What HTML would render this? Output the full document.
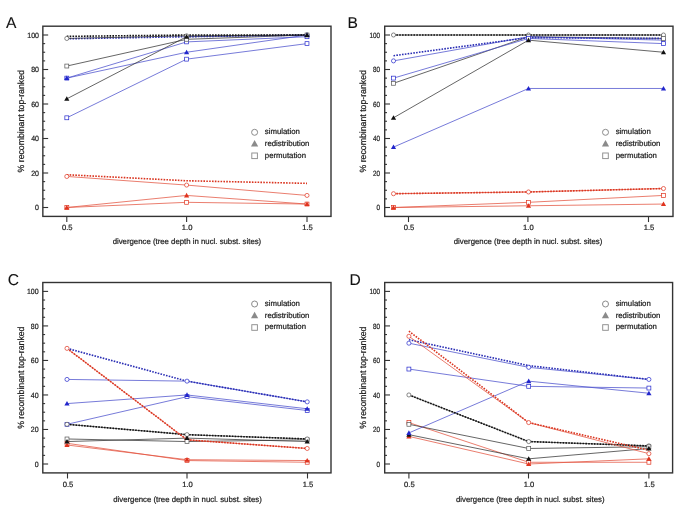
<!DOCTYPE html>
<html><head><meta charset="utf-8"><style>
html,body{margin:0;padding:0;background:#fff;}
svg{display:block;will-change:transform;}
text{text-rendering:geometricPrecision;font-family:"Liberation Sans",sans-serif;stroke:#1c1c1c;stroke-width:0.22px;}
.pl{stroke-width:0.1px;}
.tk{font-size:7.6px;fill:#1c1c1c;}
.al{font-size:7.9px;fill:#1c1c1c;}
.yl{font-size:9px;fill:#1c1c1c;}
.lg{font-size:7.8px;fill:#1c1c1c;}
.pl{font-size:15.6px;fill:#111;}
</style></head><body>
<svg width="685" height="514" viewBox="0 0 685 514">
<rect width="685" height="514" fill="#fff"/>
<rect x="42.85" y="26.2" width="288.15" height="190.2" fill="none" stroke="#333" stroke-width="1.4"/>
<line x1="42.85" y1="207.5" x2="48.15" y2="207.5" stroke="#333" stroke-width="1.1"/>
<text transform="translate(38.95,210.2) scale(0.92,1)" text-anchor="end" class="tk">0</text>
<line x1="42.85" y1="198.88" x2="45.15" y2="198.88" stroke="#333" stroke-width="1.1"/>
<line x1="42.85" y1="190.25" x2="45.15" y2="190.25" stroke="#333" stroke-width="1.1"/>
<line x1="42.85" y1="181.62" x2="45.15" y2="181.62" stroke="#333" stroke-width="1.1"/>
<line x1="42.85" y1="173" x2="48.15" y2="173" stroke="#333" stroke-width="1.1"/>
<text transform="translate(38.95,175.7) scale(0.92,1)" text-anchor="end" class="tk">20</text>
<line x1="42.85" y1="164.38" x2="45.15" y2="164.38" stroke="#333" stroke-width="1.1"/>
<line x1="42.85" y1="155.75" x2="45.15" y2="155.75" stroke="#333" stroke-width="1.1"/>
<line x1="42.85" y1="147.12" x2="45.15" y2="147.12" stroke="#333" stroke-width="1.1"/>
<line x1="42.85" y1="138.5" x2="48.15" y2="138.5" stroke="#333" stroke-width="1.1"/>
<text transform="translate(38.95,141.2) scale(0.92,1)" text-anchor="end" class="tk">40</text>
<line x1="42.85" y1="129.88" x2="45.15" y2="129.88" stroke="#333" stroke-width="1.1"/>
<line x1="42.85" y1="121.25" x2="45.15" y2="121.25" stroke="#333" stroke-width="1.1"/>
<line x1="42.85" y1="112.62" x2="45.15" y2="112.62" stroke="#333" stroke-width="1.1"/>
<line x1="42.85" y1="104" x2="48.15" y2="104" stroke="#333" stroke-width="1.1"/>
<text transform="translate(38.95,106.7) scale(0.92,1)" text-anchor="end" class="tk">60</text>
<line x1="42.85" y1="95.38" x2="45.15" y2="95.38" stroke="#333" stroke-width="1.1"/>
<line x1="42.85" y1="86.75" x2="45.15" y2="86.75" stroke="#333" stroke-width="1.1"/>
<line x1="42.85" y1="78.12" x2="45.15" y2="78.12" stroke="#333" stroke-width="1.1"/>
<line x1="42.85" y1="69.5" x2="48.15" y2="69.5" stroke="#333" stroke-width="1.1"/>
<text transform="translate(38.95,72.2) scale(0.92,1)" text-anchor="end" class="tk">80</text>
<line x1="42.85" y1="60.88" x2="45.15" y2="60.88" stroke="#333" stroke-width="1.1"/>
<line x1="42.85" y1="52.25" x2="45.15" y2="52.25" stroke="#333" stroke-width="1.1"/>
<line x1="42.85" y1="43.62" x2="45.15" y2="43.62" stroke="#333" stroke-width="1.1"/>
<line x1="42.85" y1="35" x2="48.15" y2="35" stroke="#333" stroke-width="1.1"/>
<text transform="translate(38.95,37.7) scale(0.92,1)" text-anchor="end" class="tk">100</text>
<line x1="66.8" y1="216.4" x2="66.8" y2="222" stroke="#333" stroke-width="1.1"/>
<text transform="translate(67.3,229.9) scale(1,1)" text-anchor="middle" class="tk">0.5</text>
<line x1="186.6" y1="216.4" x2="186.6" y2="222" stroke="#333" stroke-width="1.1"/>
<text transform="translate(187.1,229.9) scale(1,1)" text-anchor="middle" class="tk">1.0</text>
<line x1="307" y1="216.4" x2="307" y2="222" stroke="#333" stroke-width="1.1"/>
<text transform="translate(307.5,229.9) scale(1,1)" text-anchor="middle" class="tk">1.5</text>
<text x="186.93" y="243.9" text-anchor="middle" class="al" textLength="148.6" lengthAdjust="spacingAndGlyphs">divergence (tree depth in nucl. subst. sites)</text>
<text transform="translate(24.35,121.3) rotate(-90)" x="0" y="0" text-anchor="middle" class="yl" textLength="102.3" lengthAdjust="spacingAndGlyphs">% recombinant top-ranked</text>
<text transform="translate(6.1,27.6) scale(1,1)" class="pl">A</text>
<circle cx="254.6" cy="132.3" r="3" fill="#fff" stroke="#8a8a8a" stroke-width="1"/>
<path d="M251,146.6 L254.6,140.1 L258.2,146.6 Z" fill="#8a8a8a"/>
<rect x="251.8" y="153" width="5.6" height="5.6" fill="#fff" stroke="#8e8e8e" stroke-width="0.95"/>
<text x="264.8" y="134.4" class="lg">simulation</text>
<text x="264.8" y="146" class="lg">redistribution</text>
<text x="264.8" y="157.6" class="lg">permutation</text>
<polyline points="66.8,174.72 186.6,180.76 307,183.35" fill="none" stroke="#da3520" stroke-width="1.6" stroke-dasharray="1.6 1.25"/>
<polyline points="66.8,176.45 186.6,185.07 307,195.43" fill="none" stroke="#e3533f" stroke-width="0.75"/>
<polyline points="66.8,207.5 186.6,202.32 307,204.05" fill="none" stroke="#e3533f" stroke-width="0.75"/>
<polyline points="66.8,207.5 186.6,195.43 307,204.05" fill="none" stroke="#e3533f" stroke-width="0.75"/>
<polyline points="66.8,117.8 186.6,59.15 307,43.62" fill="none" stroke="#4a4fcc" stroke-width="0.75"/>
<polyline points="66.8,78.12 186.6,41.9 307,36.72" fill="none" stroke="#4a4fcc" stroke-width="0.75"/>
<polyline points="66.8,78.12 186.6,52.25 307,35" fill="none" stroke="#4a4fcc" stroke-width="0.75"/>
<polyline points="66.8,98.82 186.6,36.72 307,35" fill="none" stroke="#333" stroke-width="0.75"/>
<polyline points="66.8,66.05 186.6,39.31 307,35" fill="none" stroke="#333" stroke-width="0.75"/>
<polyline points="66.8,38.79 186.6,36.72 307,35" fill="none" stroke="#2a2eb4" stroke-width="1.6" stroke-dasharray="1.6 1.25"/>
<polyline points="66.8,38.45 186.6,35.86 307,35" fill="none" stroke="#333" stroke-width="0.75"/>
<polyline points="66.8,36.38 186.6,35 307,35" fill="none" stroke="#111" stroke-width="1.6" stroke-dasharray="1.6 1.25"/>
<circle cx="66.8" cy="176.45" r="2.05" fill="#fff" stroke="#e0341f" stroke-width="0.7"/>
<circle cx="186.6" cy="185.07" r="2.05" fill="#fff" stroke="#e0341f" stroke-width="0.7"/>
<circle cx="307" cy="195.43" r="2.05" fill="#fff" stroke="#e0341f" stroke-width="0.7"/>
<circle cx="66.8" cy="38.45" r="2.05" fill="#fff" stroke="#555" stroke-width="0.7"/>
<circle cx="186.6" cy="35.86" r="2.05" fill="#fff" stroke="#555" stroke-width="0.7"/>
<circle cx="307" cy="35" r="2.05" fill="#fff" stroke="#555" stroke-width="0.7"/>
<rect x="64.85" y="205.55" width="3.9" height="3.9" fill="#fff" stroke="#e0341f" stroke-width="0.7"/>
<rect x="184.65" y="200.38" width="3.9" height="3.9" fill="#fff" stroke="#e0341f" stroke-width="0.7"/>
<rect x="305.05" y="202.1" width="3.9" height="3.9" fill="#fff" stroke="#e0341f" stroke-width="0.7"/>
<rect x="64.85" y="115.85" width="3.9" height="3.9" fill="#fff" stroke="#2226cc" stroke-width="0.7"/>
<rect x="184.65" y="57.2" width="3.9" height="3.9" fill="#fff" stroke="#2226cc" stroke-width="0.7"/>
<rect x="305.05" y="41.67" width="3.9" height="3.9" fill="#fff" stroke="#2226cc" stroke-width="0.7"/>
<rect x="64.85" y="76.17" width="3.9" height="3.9" fill="#fff" stroke="#2226cc" stroke-width="0.7"/>
<rect x="184.65" y="39.95" width="3.9" height="3.9" fill="#fff" stroke="#2226cc" stroke-width="0.7"/>
<rect x="305.05" y="34.77" width="3.9" height="3.9" fill="#fff" stroke="#2226cc" stroke-width="0.7"/>
<rect x="64.85" y="64.1" width="3.9" height="3.9" fill="#fff" stroke="#555" stroke-width="0.7"/>
<rect x="184.65" y="37.36" width="3.9" height="3.9" fill="#fff" stroke="#555" stroke-width="0.7"/>
<rect x="305.05" y="33.05" width="3.9" height="3.9" fill="#fff" stroke="#555" stroke-width="0.7"/>
<path d="M64.2,209.5 L66.8,204.9 L69.4,209.5 Z" fill="#e0341f"/>
<path d="M184,197.43 L186.6,192.83 L189.2,197.43 Z" fill="#e0341f"/>
<path d="M304.4,206.05 L307,201.45 L309.6,206.05 Z" fill="#e0341f"/>
<path d="M64.2,80.12 L66.8,75.53 L69.4,80.12 Z" fill="#2226cc"/>
<path d="M184,54.25 L186.6,49.65 L189.2,54.25 Z" fill="#2226cc"/>
<path d="M304.4,37 L307,32.4 L309.6,37 Z" fill="#2226cc"/>
<path d="M64.2,100.82 L66.8,96.22 L69.4,100.82 Z" fill="#111"/>
<path d="M184,38.72 L186.6,34.12 L189.2,38.72 Z" fill="#111"/>
<path d="M304.4,37 L307,32.4 L309.6,37 Z" fill="#111"/>
<rect x="384.7" y="26.2" width="288.3" height="190.25" fill="none" stroke="#333" stroke-width="1.4"/>
<line x1="384.7" y1="207.5" x2="390" y2="207.5" stroke="#333" stroke-width="1.1"/>
<text transform="translate(380,210.2) scale(0.83,1)" text-anchor="end" class="tk">0</text>
<line x1="384.7" y1="198.88" x2="387" y2="198.88" stroke="#333" stroke-width="1.1"/>
<line x1="384.7" y1="190.25" x2="387" y2="190.25" stroke="#333" stroke-width="1.1"/>
<line x1="384.7" y1="181.62" x2="387" y2="181.62" stroke="#333" stroke-width="1.1"/>
<line x1="384.7" y1="173" x2="390" y2="173" stroke="#333" stroke-width="1.1"/>
<text transform="translate(380,175.7) scale(0.83,1)" text-anchor="end" class="tk">20</text>
<line x1="384.7" y1="164.38" x2="387" y2="164.38" stroke="#333" stroke-width="1.1"/>
<line x1="384.7" y1="155.75" x2="387" y2="155.75" stroke="#333" stroke-width="1.1"/>
<line x1="384.7" y1="147.12" x2="387" y2="147.12" stroke="#333" stroke-width="1.1"/>
<line x1="384.7" y1="138.5" x2="390" y2="138.5" stroke="#333" stroke-width="1.1"/>
<text transform="translate(380,141.2) scale(0.83,1)" text-anchor="end" class="tk">40</text>
<line x1="384.7" y1="129.88" x2="387" y2="129.88" stroke="#333" stroke-width="1.1"/>
<line x1="384.7" y1="121.25" x2="387" y2="121.25" stroke="#333" stroke-width="1.1"/>
<line x1="384.7" y1="112.62" x2="387" y2="112.62" stroke="#333" stroke-width="1.1"/>
<line x1="384.7" y1="104" x2="390" y2="104" stroke="#333" stroke-width="1.1"/>
<text transform="translate(380,106.7) scale(0.83,1)" text-anchor="end" class="tk">60</text>
<line x1="384.7" y1="95.38" x2="387" y2="95.38" stroke="#333" stroke-width="1.1"/>
<line x1="384.7" y1="86.75" x2="387" y2="86.75" stroke="#333" stroke-width="1.1"/>
<line x1="384.7" y1="78.12" x2="387" y2="78.12" stroke="#333" stroke-width="1.1"/>
<line x1="384.7" y1="69.5" x2="390" y2="69.5" stroke="#333" stroke-width="1.1"/>
<text transform="translate(380,72.2) scale(0.83,1)" text-anchor="end" class="tk">80</text>
<line x1="384.7" y1="60.88" x2="387" y2="60.88" stroke="#333" stroke-width="1.1"/>
<line x1="384.7" y1="52.25" x2="387" y2="52.25" stroke="#333" stroke-width="1.1"/>
<line x1="384.7" y1="43.62" x2="387" y2="43.62" stroke="#333" stroke-width="1.1"/>
<line x1="384.7" y1="35" x2="390" y2="35" stroke="#333" stroke-width="1.1"/>
<text transform="translate(380,37.7) scale(0.83,1)" text-anchor="end" class="tk">100</text>
<line x1="408.5" y1="216.45" x2="408.5" y2="222.05" stroke="#333" stroke-width="1.1"/>
<text transform="translate(409,229.95) scale(1,1)" text-anchor="middle" class="tk">0.5</text>
<line x1="527.9" y1="216.45" x2="527.9" y2="222.05" stroke="#333" stroke-width="1.1"/>
<text transform="translate(528.4,229.95) scale(1,1)" text-anchor="middle" class="tk">1.0</text>
<line x1="648.5" y1="216.45" x2="648.5" y2="222.05" stroke="#333" stroke-width="1.1"/>
<text transform="translate(649,229.95) scale(1,1)" text-anchor="middle" class="tk">1.5</text>
<text x="528.05" y="243.95" text-anchor="middle" class="al" textLength="148.6" lengthAdjust="spacingAndGlyphs">divergence (tree depth in nucl. subst. sites)</text>
<text transform="translate(366.2,121.32) rotate(-90)" x="0" y="0" text-anchor="middle" class="yl" textLength="102.3" lengthAdjust="spacingAndGlyphs">% recombinant top-ranked</text>
<text transform="translate(347.4,27.8) scale(1,1)" class="pl">B</text>
<circle cx="605.5" cy="132.3" r="3" fill="#fff" stroke="#8a8a8a" stroke-width="1"/>
<path d="M601.9,146.6 L605.5,140.1 L609.1,146.6 Z" fill="#8a8a8a"/>
<rect x="602.7" y="153" width="5.6" height="5.6" fill="#fff" stroke="#8e8e8e" stroke-width="0.95"/>
<text x="615.7" y="134.4" class="lg">simulation</text>
<text x="615.7" y="146" class="lg">redistribution</text>
<text x="615.7" y="157.6" class="lg">permutation</text>
<polyline points="393.5,207.5 528.5,202.32 663.5,195.43" fill="none" stroke="#e3533f" stroke-width="0.75"/>
<polyline points="393.5,207.5 528.5,205.78 663.5,204.05" fill="none" stroke="#e3533f" stroke-width="0.75"/>
<polyline points="393.5,193.7 528.5,191.97 663.5,188.53" fill="none" stroke="#e3533f" stroke-width="0.75"/>
<polyline points="393.5,193.7 528.5,191.97 663.5,188.53" fill="none" stroke="#da3520" stroke-width="1.6" stroke-dasharray="1.6 1.25"/>
<polyline points="393.5,147.12 528.5,88.47 663.5,88.47" fill="none" stroke="#4a4fcc" stroke-width="0.75"/>
<polyline points="393.5,117.8 528.5,40.17 663.5,52.25" fill="none" stroke="#333" stroke-width="0.75"/>
<polyline points="393.5,83.3 528.5,36.72 663.5,38.45" fill="none" stroke="#333" stroke-width="0.75"/>
<polyline points="393.5,78.12 528.5,38.45 663.5,43.62" fill="none" stroke="#4a4fcc" stroke-width="0.75"/>
<polyline points="393.5,60.88 528.5,36.72 663.5,40.17" fill="none" stroke="#4a4fcc" stroke-width="0.75"/>
<polyline points="393.5,55.7 528.5,37.59 663.5,38.45" fill="none" stroke="#2a2eb4" stroke-width="1.6" stroke-dasharray="1.6 1.25"/>
<polyline points="393.5,35 528.5,35 663.5,35" fill="none" stroke="#333" stroke-width="0.75"/>
<polyline points="393.5,35 528.5,35 663.5,35" fill="none" stroke="#111" stroke-width="1.6" stroke-dasharray="1.6 1.25"/>
<circle cx="393.5" cy="193.7" r="2.05" fill="#fff" stroke="#e0341f" stroke-width="0.7"/>
<circle cx="528.5" cy="191.97" r="2.05" fill="#fff" stroke="#e0341f" stroke-width="0.7"/>
<circle cx="663.5" cy="188.53" r="2.05" fill="#fff" stroke="#e0341f" stroke-width="0.7"/>
<circle cx="393.5" cy="60.88" r="2.05" fill="#fff" stroke="#2226cc" stroke-width="0.7"/>
<circle cx="528.5" cy="36.72" r="2.05" fill="#fff" stroke="#2226cc" stroke-width="0.7"/>
<circle cx="663.5" cy="40.17" r="2.05" fill="#fff" stroke="#2226cc" stroke-width="0.7"/>
<circle cx="393.5" cy="35" r="2.05" fill="#fff" stroke="#555" stroke-width="0.7"/>
<circle cx="528.5" cy="35" r="2.05" fill="#fff" stroke="#555" stroke-width="0.7"/>
<circle cx="663.5" cy="35" r="2.05" fill="#fff" stroke="#555" stroke-width="0.7"/>
<rect x="391.55" y="205.55" width="3.9" height="3.9" fill="#fff" stroke="#e0341f" stroke-width="0.7"/>
<rect x="526.55" y="200.38" width="3.9" height="3.9" fill="#fff" stroke="#e0341f" stroke-width="0.7"/>
<rect x="661.55" y="193.48" width="3.9" height="3.9" fill="#fff" stroke="#e0341f" stroke-width="0.7"/>
<rect x="391.55" y="81.35" width="3.9" height="3.9" fill="#fff" stroke="#555" stroke-width="0.7"/>
<rect x="526.55" y="34.77" width="3.9" height="3.9" fill="#fff" stroke="#555" stroke-width="0.7"/>
<rect x="661.55" y="36.5" width="3.9" height="3.9" fill="#fff" stroke="#555" stroke-width="0.7"/>
<rect x="391.55" y="76.17" width="3.9" height="3.9" fill="#fff" stroke="#2226cc" stroke-width="0.7"/>
<rect x="526.55" y="36.5" width="3.9" height="3.9" fill="#fff" stroke="#2226cc" stroke-width="0.7"/>
<rect x="661.55" y="41.67" width="3.9" height="3.9" fill="#fff" stroke="#2226cc" stroke-width="0.7"/>
<path d="M390.9,209.5 L393.5,204.9 L396.1,209.5 Z" fill="#e0341f"/>
<path d="M525.9,207.78 L528.5,203.18 L531.1,207.78 Z" fill="#e0341f"/>
<path d="M660.9,206.05 L663.5,201.45 L666.1,206.05 Z" fill="#e0341f"/>
<path d="M390.9,149.12 L393.5,144.53 L396.1,149.12 Z" fill="#2226cc"/>
<path d="M525.9,90.47 L528.5,85.88 L531.1,90.47 Z" fill="#2226cc"/>
<path d="M660.9,90.47 L663.5,85.88 L666.1,90.47 Z" fill="#2226cc"/>
<path d="M390.9,119.8 L393.5,115.2 L396.1,119.8 Z" fill="#111"/>
<path d="M525.9,42.17 L528.5,37.57 L531.1,42.17 Z" fill="#111"/>
<path d="M660.9,54.25 L663.5,49.65 L666.1,54.25 Z" fill="#111"/>
<rect x="42.8" y="282.5" width="288.2" height="190.4" fill="none" stroke="#333" stroke-width="1.4"/>
<line x1="42.8" y1="464" x2="48.1" y2="464" stroke="#333" stroke-width="1.1"/>
<text transform="translate(38.6,466.7) scale(0.92,1)" text-anchor="end" class="tk">0</text>
<line x1="42.8" y1="455.37" x2="45.1" y2="455.37" stroke="#333" stroke-width="1.1"/>
<line x1="42.8" y1="446.74" x2="45.1" y2="446.74" stroke="#333" stroke-width="1.1"/>
<line x1="42.8" y1="438.11" x2="45.1" y2="438.11" stroke="#333" stroke-width="1.1"/>
<line x1="42.8" y1="429.48" x2="48.1" y2="429.48" stroke="#333" stroke-width="1.1"/>
<text transform="translate(38.6,432.18) scale(0.92,1)" text-anchor="end" class="tk">20</text>
<line x1="42.8" y1="420.85" x2="45.1" y2="420.85" stroke="#333" stroke-width="1.1"/>
<line x1="42.8" y1="412.22" x2="45.1" y2="412.22" stroke="#333" stroke-width="1.1"/>
<line x1="42.8" y1="403.59" x2="45.1" y2="403.59" stroke="#333" stroke-width="1.1"/>
<line x1="42.8" y1="394.96" x2="48.1" y2="394.96" stroke="#333" stroke-width="1.1"/>
<text transform="translate(38.6,397.66) scale(0.92,1)" text-anchor="end" class="tk">40</text>
<line x1="42.8" y1="386.33" x2="45.1" y2="386.33" stroke="#333" stroke-width="1.1"/>
<line x1="42.8" y1="377.7" x2="45.1" y2="377.7" stroke="#333" stroke-width="1.1"/>
<line x1="42.8" y1="369.07" x2="45.1" y2="369.07" stroke="#333" stroke-width="1.1"/>
<line x1="42.8" y1="360.44" x2="48.1" y2="360.44" stroke="#333" stroke-width="1.1"/>
<text transform="translate(38.6,363.14) scale(0.92,1)" text-anchor="end" class="tk">60</text>
<line x1="42.8" y1="351.81" x2="45.1" y2="351.81" stroke="#333" stroke-width="1.1"/>
<line x1="42.8" y1="343.18" x2="45.1" y2="343.18" stroke="#333" stroke-width="1.1"/>
<line x1="42.8" y1="334.55" x2="45.1" y2="334.55" stroke="#333" stroke-width="1.1"/>
<line x1="42.8" y1="325.92" x2="48.1" y2="325.92" stroke="#333" stroke-width="1.1"/>
<text transform="translate(38.6,328.62) scale(0.92,1)" text-anchor="end" class="tk">80</text>
<line x1="42.8" y1="317.29" x2="45.1" y2="317.29" stroke="#333" stroke-width="1.1"/>
<line x1="42.8" y1="308.66" x2="45.1" y2="308.66" stroke="#333" stroke-width="1.1"/>
<line x1="42.8" y1="300.03" x2="45.1" y2="300.03" stroke="#333" stroke-width="1.1"/>
<line x1="42.8" y1="291.4" x2="48.1" y2="291.4" stroke="#333" stroke-width="1.1"/>
<text transform="translate(38.6,294.1) scale(0.92,1)" text-anchor="end" class="tk">100</text>
<line x1="67.5" y1="472.9" x2="67.5" y2="478.5" stroke="#333" stroke-width="1.1"/>
<text transform="translate(68,487) scale(1,1)" text-anchor="middle" class="tk">0.5</text>
<line x1="187" y1="472.9" x2="187" y2="478.5" stroke="#333" stroke-width="1.1"/>
<text transform="translate(187.5,487) scale(1,1)" text-anchor="middle" class="tk">1.0</text>
<line x1="307.5" y1="472.9" x2="307.5" y2="478.5" stroke="#333" stroke-width="1.1"/>
<text transform="translate(308,487) scale(1,1)" text-anchor="middle" class="tk">1.5</text>
<text x="187.5" y="502.3" text-anchor="middle" class="al" textLength="148.6" lengthAdjust="spacingAndGlyphs">divergence (tree depth in nucl. subst. sites)</text>
<text transform="translate(24.3,377.7) rotate(-90)" x="0" y="0" text-anchor="middle" class="yl" textLength="102.3" lengthAdjust="spacingAndGlyphs">% recombinant top-ranked</text>
<text transform="translate(7.7,285.3) scale(1,1)" class="pl">C</text>
<circle cx="254.6" cy="304" r="3" fill="#fff" stroke="#8a8a8a" stroke-width="1"/>
<path d="M251,318.3 L254.6,311.8 L258.2,318.3 Z" fill="#8a8a8a"/>
<rect x="251.8" y="324.7" width="5.6" height="5.6" fill="#fff" stroke="#8e8e8e" stroke-width="0.95"/>
<text x="264.8" y="306.1" class="lg">simulation</text>
<text x="264.8" y="317.7" class="lg">redistribution</text>
<text x="264.8" y="329.3" class="lg">permutation</text>
<polyline points="67,443.29 187,460.55 307.2,462.27" fill="none" stroke="#e3533f" stroke-width="0.75"/>
<polyline points="67,445.01 187,459.69 307.2,460.55" fill="none" stroke="#e3533f" stroke-width="0.75"/>
<polyline points="67,438.97 187,441.56 307.2,439.84" fill="none" stroke="#333" stroke-width="0.75"/>
<polyline points="67,441.56 187,438.11 307.2,441.56" fill="none" stroke="#333" stroke-width="0.75"/>
<polyline points="67,424.3 187,434.66 307.2,438.97" fill="none" stroke="#333" stroke-width="0.75"/>
<polyline points="67,424.3 187,434.66 307.2,438.97" fill="none" stroke="#111" stroke-width="1.6" stroke-dasharray="1.6 1.25"/>
<polyline points="67,424.3 187,396.69 307.2,410.49" fill="none" stroke="#4a4fcc" stroke-width="0.75"/>
<polyline points="67,403.59 187,394.96 307.2,408.77" fill="none" stroke="#4a4fcc" stroke-width="0.75"/>
<polyline points="67,379.43 187,381.15 307.2,401.86" fill="none" stroke="#4a4fcc" stroke-width="0.75"/>
<polyline points="67,348.36 187,439.84 307.2,448.47" fill="none" stroke="#e3533f" stroke-width="0.75"/>
<polyline points="67,348.36 187,439.84 307.2,448.47" fill="none" stroke="#da3520" stroke-width="1.6" stroke-dasharray="1.6 1.25"/>
<polyline points="67,348.36 187,381.15 307.2,401.86" fill="none" stroke="#2a2eb4" stroke-width="1.6" stroke-dasharray="1.6 1.25"/>
<circle cx="67" cy="379.43" r="2.05" fill="#fff" stroke="#2226cc" stroke-width="0.7"/>
<circle cx="187" cy="381.15" r="2.05" fill="#fff" stroke="#2226cc" stroke-width="0.7"/>
<circle cx="307.2" cy="401.86" r="2.05" fill="#fff" stroke="#2226cc" stroke-width="0.7"/>
<circle cx="67" cy="348.36" r="2.05" fill="#fff" stroke="#e0341f" stroke-width="0.7"/>
<circle cx="187" cy="439.84" r="2.05" fill="#fff" stroke="#e0341f" stroke-width="0.7"/>
<circle cx="307.2" cy="448.47" r="2.05" fill="#fff" stroke="#e0341f" stroke-width="0.7"/>
<rect x="65.05" y="441.34" width="3.9" height="3.9" fill="#fff" stroke="#e0341f" stroke-width="0.7"/>
<rect x="185.05" y="458.6" width="3.9" height="3.9" fill="#fff" stroke="#e0341f" stroke-width="0.7"/>
<rect x="305.25" y="460.32" width="3.9" height="3.9" fill="#fff" stroke="#e0341f" stroke-width="0.7"/>
<rect x="65.05" y="437.02" width="3.9" height="3.9" fill="#fff" stroke="#555" stroke-width="0.7"/>
<rect x="185.05" y="439.61" width="3.9" height="3.9" fill="#fff" stroke="#555" stroke-width="0.7"/>
<rect x="305.25" y="437.89" width="3.9" height="3.9" fill="#fff" stroke="#555" stroke-width="0.7"/>
<rect x="65.05" y="422.35" width="3.9" height="3.9" fill="#fff" stroke="#2226cc" stroke-width="0.7"/>
<rect x="185.05" y="394.74" width="3.9" height="3.9" fill="#fff" stroke="#2226cc" stroke-width="0.7"/>
<rect x="305.25" y="408.54" width="3.9" height="3.9" fill="#fff" stroke="#2226cc" stroke-width="0.7"/>
<circle cx="67" cy="424.3" r="2.05" fill="#fff" stroke="#555" stroke-width="0.7"/>
<circle cx="187" cy="434.66" r="2.05" fill="#fff" stroke="#555" stroke-width="0.7"/>
<circle cx="307.2" cy="438.97" r="2.05" fill="#fff" stroke="#555" stroke-width="0.7"/>
<path d="M64.4,447.01 L67,442.41 L69.6,447.01 Z" fill="#e0341f"/>
<path d="M184.4,461.69 L187,457.08 L189.6,461.69 Z" fill="#e0341f"/>
<path d="M304.6,462.55 L307.2,457.95 L309.8,462.55 Z" fill="#e0341f"/>
<path d="M64.4,443.56 L67,438.96 L69.6,443.56 Z" fill="#111"/>
<path d="M184.4,440.11 L187,435.51 L189.6,440.11 Z" fill="#111"/>
<path d="M304.6,443.56 L307.2,438.96 L309.8,443.56 Z" fill="#111"/>
<path d="M64.4,405.59 L67,400.99 L69.6,405.59 Z" fill="#2226cc"/>
<path d="M184.4,396.96 L187,392.36 L189.6,396.96 Z" fill="#2226cc"/>
<path d="M304.6,410.77 L307.2,406.17 L309.8,410.77 Z" fill="#2226cc"/>
<rect x="384.7" y="282.5" width="287.9" height="190.4" fill="none" stroke="#333" stroke-width="1.4"/>
<line x1="384.7" y1="464" x2="390" y2="464" stroke="#333" stroke-width="1.1"/>
<text transform="translate(380,466.7) scale(0.83,1)" text-anchor="end" class="tk">0</text>
<line x1="384.7" y1="455.37" x2="387" y2="455.37" stroke="#333" stroke-width="1.1"/>
<line x1="384.7" y1="446.74" x2="387" y2="446.74" stroke="#333" stroke-width="1.1"/>
<line x1="384.7" y1="438.11" x2="387" y2="438.11" stroke="#333" stroke-width="1.1"/>
<line x1="384.7" y1="429.48" x2="390" y2="429.48" stroke="#333" stroke-width="1.1"/>
<text transform="translate(380,432.18) scale(0.83,1)" text-anchor="end" class="tk">20</text>
<line x1="384.7" y1="420.85" x2="387" y2="420.85" stroke="#333" stroke-width="1.1"/>
<line x1="384.7" y1="412.22" x2="387" y2="412.22" stroke="#333" stroke-width="1.1"/>
<line x1="384.7" y1="403.59" x2="387" y2="403.59" stroke="#333" stroke-width="1.1"/>
<line x1="384.7" y1="394.96" x2="390" y2="394.96" stroke="#333" stroke-width="1.1"/>
<text transform="translate(380,397.66) scale(0.83,1)" text-anchor="end" class="tk">40</text>
<line x1="384.7" y1="386.33" x2="387" y2="386.33" stroke="#333" stroke-width="1.1"/>
<line x1="384.7" y1="377.7" x2="387" y2="377.7" stroke="#333" stroke-width="1.1"/>
<line x1="384.7" y1="369.07" x2="387" y2="369.07" stroke="#333" stroke-width="1.1"/>
<line x1="384.7" y1="360.44" x2="390" y2="360.44" stroke="#333" stroke-width="1.1"/>
<text transform="translate(380,363.14) scale(0.83,1)" text-anchor="end" class="tk">60</text>
<line x1="384.7" y1="351.81" x2="387" y2="351.81" stroke="#333" stroke-width="1.1"/>
<line x1="384.7" y1="343.18" x2="387" y2="343.18" stroke="#333" stroke-width="1.1"/>
<line x1="384.7" y1="334.55" x2="387" y2="334.55" stroke="#333" stroke-width="1.1"/>
<line x1="384.7" y1="325.92" x2="390" y2="325.92" stroke="#333" stroke-width="1.1"/>
<text transform="translate(380,328.62) scale(0.83,1)" text-anchor="end" class="tk">80</text>
<line x1="384.7" y1="317.29" x2="387" y2="317.29" stroke="#333" stroke-width="1.1"/>
<line x1="384.7" y1="308.66" x2="387" y2="308.66" stroke="#333" stroke-width="1.1"/>
<line x1="384.7" y1="300.03" x2="387" y2="300.03" stroke="#333" stroke-width="1.1"/>
<line x1="384.7" y1="291.4" x2="390" y2="291.4" stroke="#333" stroke-width="1.1"/>
<text transform="translate(380,294.1) scale(0.83,1)" text-anchor="end" class="tk">100</text>
<line x1="408.9" y1="472.9" x2="408.9" y2="478.5" stroke="#333" stroke-width="1.1"/>
<text transform="translate(409.4,487) scale(1,1)" text-anchor="middle" class="tk">0.5</text>
<line x1="528.5" y1="472.9" x2="528.5" y2="478.5" stroke="#333" stroke-width="1.1"/>
<text transform="translate(529,487) scale(1,1)" text-anchor="middle" class="tk">1.0</text>
<line x1="648.9" y1="472.9" x2="648.9" y2="478.5" stroke="#333" stroke-width="1.1"/>
<text transform="translate(649.4,487) scale(1,1)" text-anchor="middle" class="tk">1.5</text>
<text x="530.25" y="502.3" text-anchor="middle" class="al" textLength="148.6" lengthAdjust="spacingAndGlyphs">divergence (tree depth in nucl. subst. sites)</text>
<text transform="translate(366.2,377.7) rotate(-90)" x="0" y="0" text-anchor="middle" class="yl" textLength="102.3" lengthAdjust="spacingAndGlyphs">% recombinant top-ranked</text>
<text transform="translate(349.4,285.1) scale(1,1)" class="pl">D</text>
<circle cx="605.5" cy="304" r="3" fill="#fff" stroke="#8a8a8a" stroke-width="1"/>
<path d="M601.9,318.3 L605.5,311.8 L609.1,318.3 Z" fill="#8a8a8a"/>
<rect x="602.7" y="324.7" width="5.6" height="5.6" fill="#fff" stroke="#8e8e8e" stroke-width="0.95"/>
<text x="615.7" y="306.1" class="lg">simulation</text>
<text x="615.7" y="317.7" class="lg">redistribution</text>
<text x="615.7" y="329.3" class="lg">permutation</text>
<polyline points="408.9,422.58 528.7,462.27 648.9,462.27" fill="none" stroke="#e3533f" stroke-width="0.75"/>
<polyline points="408.9,436.38 528.7,464 648.9,458.82" fill="none" stroke="#e3533f" stroke-width="0.75"/>
<polyline points="408.9,434.66 528.7,458.82 648.9,448.47" fill="none" stroke="#333" stroke-width="0.75"/>
<polyline points="408.9,424.3 528.7,448.47 648.9,446.74" fill="none" stroke="#333" stroke-width="0.75"/>
<polyline points="408.9,432.93 528.7,381.15 648.9,393.23" fill="none" stroke="#4a4fcc" stroke-width="0.75"/>
<polyline points="408.9,369.07 528.7,386.33 648.9,388.06" fill="none" stroke="#4a4fcc" stroke-width="0.75"/>
<polyline points="408.9,394.96 528.7,441.56 648.9,445.88" fill="none" stroke="#333" stroke-width="0.75"/>
<polyline points="408.9,394.96 528.7,441.56 648.9,445.88" fill="none" stroke="#111" stroke-width="1.6" stroke-dasharray="1.6 1.25"/>
<polyline points="408.9,343.18 528.7,367.34 648.9,379.43" fill="none" stroke="#4a4fcc" stroke-width="0.75"/>
<polyline points="408.9,339.73 528.7,365.62 648.9,379.43" fill="none" stroke="#2a2eb4" stroke-width="1.6" stroke-dasharray="1.6 1.25"/>
<polyline points="408.9,336.28 528.7,422.58 648.9,453.64" fill="none" stroke="#e3533f" stroke-width="0.75"/>
<polyline points="408.9,331.1 528.7,422.58 648.9,450.19" fill="none" stroke="#da3520" stroke-width="1.6" stroke-dasharray="1.6 1.25"/>
<circle cx="408.9" cy="394.96" r="2.05" fill="#fff" stroke="#555" stroke-width="0.7"/>
<circle cx="528.7" cy="441.56" r="2.05" fill="#fff" stroke="#555" stroke-width="0.7"/>
<circle cx="648.9" cy="445.88" r="2.05" fill="#fff" stroke="#555" stroke-width="0.7"/>
<circle cx="408.9" cy="343.18" r="2.05" fill="#fff" stroke="#2226cc" stroke-width="0.7"/>
<circle cx="528.7" cy="367.34" r="2.05" fill="#fff" stroke="#2226cc" stroke-width="0.7"/>
<circle cx="648.9" cy="379.43" r="2.05" fill="#fff" stroke="#2226cc" stroke-width="0.7"/>
<circle cx="408.9" cy="336.28" r="2.05" fill="#fff" stroke="#e0341f" stroke-width="0.7"/>
<circle cx="528.7" cy="422.58" r="2.05" fill="#fff" stroke="#e0341f" stroke-width="0.7"/>
<circle cx="648.9" cy="453.64" r="2.05" fill="#fff" stroke="#e0341f" stroke-width="0.7"/>
<rect x="406.95" y="420.63" width="3.9" height="3.9" fill="#fff" stroke="#e0341f" stroke-width="0.7"/>
<rect x="526.75" y="460.32" width="3.9" height="3.9" fill="#fff" stroke="#e0341f" stroke-width="0.7"/>
<rect x="646.95" y="460.32" width="3.9" height="3.9" fill="#fff" stroke="#e0341f" stroke-width="0.7"/>
<rect x="406.95" y="422.35" width="3.9" height="3.9" fill="#fff" stroke="#555" stroke-width="0.7"/>
<rect x="526.75" y="446.52" width="3.9" height="3.9" fill="#fff" stroke="#555" stroke-width="0.7"/>
<rect x="646.95" y="444.79" width="3.9" height="3.9" fill="#fff" stroke="#555" stroke-width="0.7"/>
<rect x="406.95" y="367.12" width="3.9" height="3.9" fill="#fff" stroke="#2226cc" stroke-width="0.7"/>
<rect x="526.75" y="384.38" width="3.9" height="3.9" fill="#fff" stroke="#2226cc" stroke-width="0.7"/>
<rect x="646.95" y="386.11" width="3.9" height="3.9" fill="#fff" stroke="#2226cc" stroke-width="0.7"/>
<path d="M406.3,438.38 L408.9,433.78 L411.5,438.38 Z" fill="#e0341f"/>
<path d="M526.1,466 L528.7,461.4 L531.3,466 Z" fill="#e0341f"/>
<path d="M646.3,460.82 L648.9,456.22 L651.5,460.82 Z" fill="#e0341f"/>
<path d="M406.3,436.66 L408.9,432.06 L411.5,436.66 Z" fill="#111"/>
<path d="M526.1,460.82 L528.7,456.22 L531.3,460.82 Z" fill="#111"/>
<path d="M646.3,450.47 L648.9,445.87 L651.5,450.47 Z" fill="#111"/>
<path d="M406.3,434.93 L408.9,430.33 L411.5,434.93 Z" fill="#2226cc"/>
<path d="M526.1,383.15 L528.7,378.55 L531.3,383.15 Z" fill="#2226cc"/>
<path d="M646.3,395.23 L648.9,390.63 L651.5,395.23 Z" fill="#2226cc"/>
</svg>
</body></html>
